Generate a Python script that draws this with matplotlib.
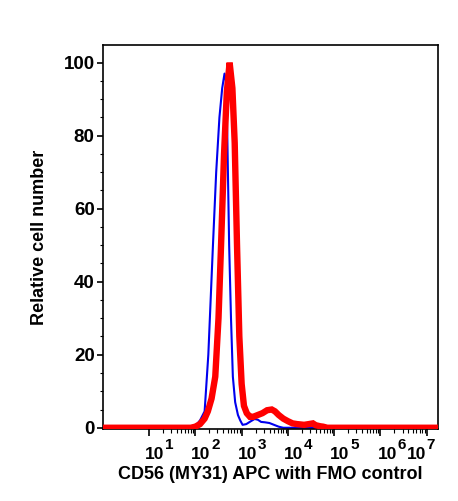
import numpy as np
import matplotlib
matplotlib.use('Agg')
import matplotlib.pyplot as plt
from matplotlib.ticker import FixedLocator, NullFormatter
from matplotlib.transforms import blended_transform_factory, ScaledTranslation

plt.rcParams['font.family'] = 'Liberation Sans'
plt.rcParams['font.weight'] = 'bold'

# FMO control (blue) - x given as log10 of fluorescence
blue_log = [0.0, 1.85, 2.0, 2.1, 2.2, 2.28, 2.33, 2.38, 2.45, 2.52, 2.58, 2.63, 2.66,
            2.69, 2.73, 2.77, 2.81, 2.86, 2.92, 2.97, 3.02, 3.1, 3.2, 3.28, 3.35,
            3.42, 3.5, 3.6, 3.7, 3.8, 3.9, 7.3]
blue_val = [0, 0, 0.5, 2, 4.5, 20, 35, 50, 70, 85, 93, 97, 95,
            80, 50, 30, 14, 7, 3.5, 2, 0.8, 1.0, 1.8, 2.4, 2.2,
            1.6, 1.5, 1.3, 0.8, 0.3, 0, 0]

# CD56 stained (red)
red_log = [0.0, 1.9, 2.0, 2.1, 2.2, 2.27, 2.35, 2.43, 2.5, 2.555, 2.62, 2.68, 2.74,
           2.8, 2.85, 2.9, 2.95, 3.0, 3.05, 3.11, 3.18, 3.25, 3.35, 3.45,
           3.55, 3.65, 3.72, 3.8, 3.9, 4.0, 4.1, 4.2, 4.35, 4.45, 4.54, 4.6, 4.7,
           4.76, 4.85, 7.3]
red_val = [0, 0, 0.3, 1, 2.5, 4.5, 8, 14, 30, 50, 75, 92, 100,
           93, 78, 50, 25, 12, 6, 4, 3, 3, 3.5, 4,
           4.8, 5, 4.5, 3.5, 2.5, 1.8, 1.2, 1, 0.8, 1, 1.2, 0.7, 0.4,
           0.3, 0, 0]

x_major = [1, 2, 3, 4, 5, 6, 7]
y_major = [0, 20, 40, 60, 80, 100]

fig = plt.figure(figsize=(4.58, 5.01), dpi=100)
ax = fig.add_axes([0.225, 0.144, 0.731, 0.766])

ax.plot(10 ** np.array(blue_log), blue_val, color='#0000ee', lw=1.5, zorder=2)
ax.plot(10 ** np.array(red_log), red_val, color='#ff0000', lw=4.6, zorder=3,
        solid_joinstyle='miter')

ax.set_xscale('log')
ax.set_xlim(10 ** 0.005, 10 ** 7.24)
ax.set_ylim(-0.3, 104.8)

ax.xaxis.set_major_locator(FixedLocator([10 ** e for e in x_major]))
ax.xaxis.set_major_formatter(NullFormatter())
minors = [m * 10 ** e for e in range(1, 7) for m in range(2, 10)]
ax.xaxis.set_minor_locator(FixedLocator(minors))
ax.xaxis.set_minor_formatter(NullFormatter())

# x tick labels drawn as "10" + raised exponent (large superscript look)
base = blended_transform_factory(ax.transData, ax.transAxes)
shift = {6: -3, 7: -20}
for e in x_major:
    dx = shift.get(e, -4)
    t1 = base + ScaledTranslation(dx / 100, -30 / 100, fig.dpi_scale_trans)
    t2 = base + ScaledTranslation((dx + 20) / 100, -20 / 100, fig.dpi_scale_trans)
    ax.text(10 ** e, 0, '10', transform=t1, ha='left', va='baseline',
            fontsize=12.5, fontweight='bold')
    ax.text(10 ** e, 0, str(e), transform=t2, ha='left', va='baseline',
            fontsize=11, fontweight='bold')

ax.set_yticks(y_major)
ax.set_yticklabels([str(v) for v in y_major], fontsize=13.5, fontweight='bold')
ax.set_yticks(np.arange(0, 101, 5), minor=True)

ax.tick_params(axis='x', which='major', length=5, width=1.2, direction='out')
ax.tick_params(axis='x', which='minor', length=3, width=0.8, direction='out')
ax.tick_params(axis='y', which='major', length=4, width=1.2, pad=2, direction='out')
ax.tick_params(axis='y', which='minor', length=2.5, width=0.8, direction='out')

for s in ax.spines.values():
    s.set_linewidth(1.2)

ax.set_xlabel('CD56 (MY31) APC with FMO control', fontsize=13, fontweight='bold')
ax.xaxis.set_label_coords(0.5, -0.096)
ax.xaxis.label.set_va('top')
ax.set_ylabel('Relative cell number', fontsize=13, fontweight='bold')
ax.yaxis.set_label_coords(-0.164, 0.5)

fig.savefig('out.png', dpi=100)
